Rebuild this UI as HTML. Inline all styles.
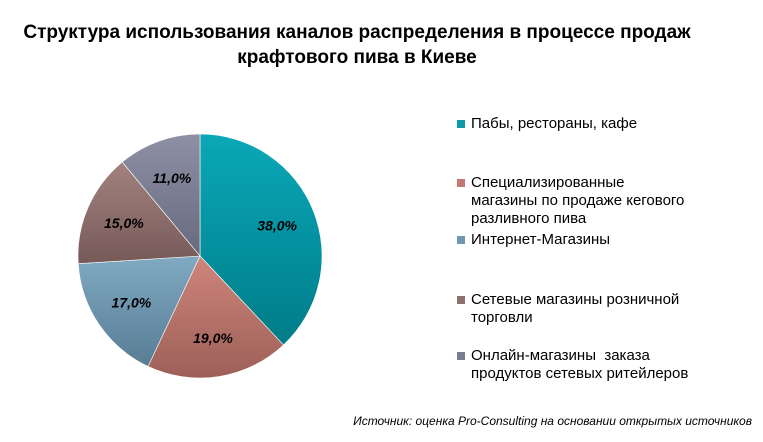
<!DOCTYPE html>
<html><head><meta charset="utf-8"><style>
body{margin:0;background:#fff;font-family:"Liberation Sans",sans-serif;}
#c{position:relative;width:763px;height:442px;overflow:hidden;}
.t{position:absolute;left:0;width:714px;text-align:center;font-weight:bold;font-size:19px;color:#000;}
.lg{position:absolute;left:457px;font-size:15px;line-height:18px;color:#000;}
.sq{position:absolute;left:0;top:5px;width:8px;height:8px;}
.lg span.tx{display:block;padding-left:14px;}
</style></head><body>
<div id="c">
<div class="t" style="top:22px">Структура использования каналов распределения в процессе продаж<br><span style="display:inline-block;margin-top:3px">крафтового пива в Киеве</span></div>
<svg id="pie" width="763" height="442" style="position:absolute;left:0;top:0">
<defs>
<linearGradient id="g0" x1="0" y1="0" x2="0" y2="1"><stop offset="0" stop-color="#0aa8b8"/><stop offset="1" stop-color="#007c88"/></linearGradient>
<linearGradient id="g1" x1="0" y1="0" x2="0" y2="1"><stop offset="0" stop-color="#cf847b"/><stop offset="1" stop-color="#9c6058"/></linearGradient>
<linearGradient id="g2" x1="0" y1="0" x2="0" y2="1"><stop offset="0" stop-color="#80a9c2"/><stop offset="1" stop-color="#587d95"/></linearGradient>
<linearGradient id="g3" x1="0" y1="0" x2="0" y2="1"><stop offset="0" stop-color="#a3827f"/><stop offset="1" stop-color="#765a58"/></linearGradient>
<linearGradient id="g4" x1="0" y1="0" x2="0" y2="1"><stop offset="0" stop-color="#8e90a5"/><stop offset="1" stop-color="#676a7e"/></linearGradient>
</defs>
</svg>
<div class="lg" style="top:115px"><div class="sq" style="background:#0a9aa8"></div><span class="tx">Пабы, рестораны, кафе</span></div>
<div class="lg" style="top:174px"><div class="sq" style="background:#c47a72"></div><span class="tx">Специализированные<br>магазины по продаже кегового<br>разливного пива</span></div>
<div class="lg" style="top:231px"><div class="sq" style="background:#6e98b2"></div><span class="tx">Интернет-Магазины</span></div>
<div class="lg" style="top:291px"><div class="sq" style="background:#8e706e"></div><span class="tx">Сетевые магазины розничной<br>торговли</span></div>
<div class="lg" style="top:347px"><div class="sq" style="background:#7a7c90"></div><span class="tx">Онлайн-магазины &nbsp;заказа<br>продуктов сетевых ритейлеров</span></div>
<div style="position:absolute;right:11px;top:414px;font-size:12px;font-style:italic;color:#000">Источник: оценка Pro-Consulting на основании открытых источников</div>
</div>
<script>
const categories=["Пабы, рестораны, кафе","Специализированные магазины","Интернет-Магазины","Сетевые магазины розничной торговли","Онлайн-магазины"];
const values=[38,19,17,15,11];
const valueLabels=["38,0%","19,0%","17,0%","15,0%","11,0%"];
const svg=document.getElementById('pie');
const NS="http://www.w3.org/2000/svg";
const cx=200,cy=256,r=122;
const total=values.reduce((a,b)=>a+b,0);
let a0=0;
values.forEach((v,i)=>{
  const a1=a0+v/total*2*Math.PI;
  const x0=cx+r*Math.sin(a0),y0=cy-r*Math.cos(a0);
  const x1=cx+r*Math.sin(a1),y1=cy-r*Math.cos(a1);
  const p=document.createElementNS(NS,'path');
  p.setAttribute('d',`M${cx},${cy}L${x0},${y0}A${r},${r} 0 ${a1-a0>Math.PI?1:0} 1 ${x1},${y1}Z`);
  p.setAttribute('fill',`url(#g${i})`);
  p.setAttribute('stroke','#fff');
  p.setAttribute('stroke-width','0.6');
  
  
  svg.appendChild(p);
  const am=(a0+a1)/2,lr=r*0.68;
  const t=document.createElementNS(NS,'text');
  t.setAttribute('x',cx+lr*Math.sin(am));
  t.setAttribute('y',cy-lr*Math.cos(am)+5);
  t.setAttribute('text-anchor','middle');
  t.setAttribute('font-family','Liberation Sans, sans-serif');
  t.setAttribute('font-size','14');
  t.setAttribute('font-weight','bold');
  t.setAttribute('font-style','italic');
  t.textContent=valueLabels[i];
  
  
  svg.appendChild(t);
  a0=a1;
});
</script>
</body></html>
